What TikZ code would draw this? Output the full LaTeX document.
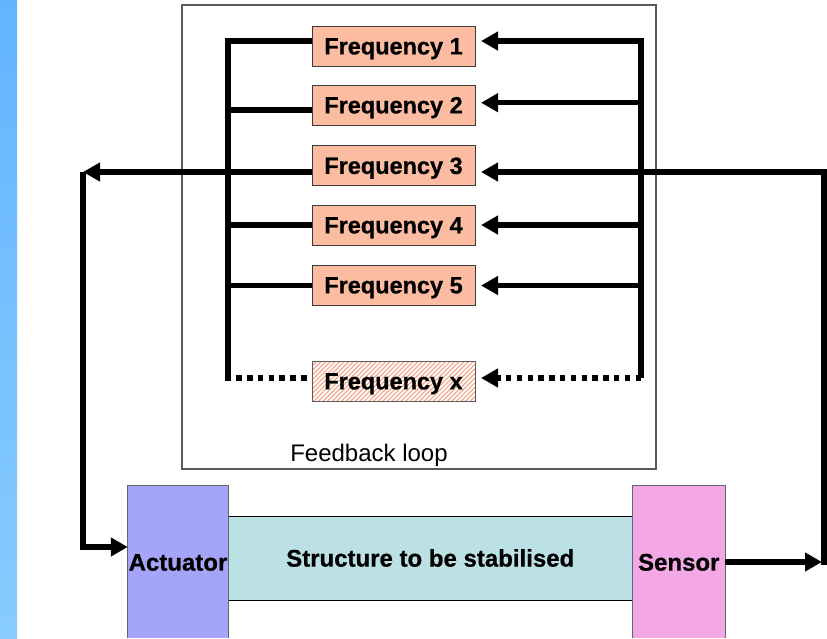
\documentclass[tikz,border=0pt]{standalone}
\usepackage{fontspec}
\setmainfont[BoldFeatures={FakeBold=0.7}]{Liberation Sans}
\usetikzlibrary{arrows.meta}
\definecolor{freqfill}{RGB}{251,188,161}
\definecolor{actfill}{RGB}{164,164,248}
\definecolor{sensfill}{RGB}{243,168,229}
\definecolor{structfill}{RGB}{187,225,228}
\definecolor{stripetop}{RGB}{99,180,255}
\definecolor{stripebot}{RGB}{136,204,255}
\definecolor{hatchcol}{RGB}{246,170,142}
\definecolor{boxline}{RGB}{60,60,60}
\definecolor{fbline}{RGB}{90,90,90}
\definecolor{sideline}{RGB}{100,100,110}
\tikzset{
  freq/.style={draw=boxline, line width=1pt, fill=freqfill, minimum width=163pt,
    minimum height=40pt, inner sep=0pt, font=\fontsize{23.5}{28}\selectfont\bfseries,
    text height=16.8pt, text depth=0pt},
  bigtext/.style={inner sep=0pt, font=\fontsize{24}{28}\selectfont\bfseries,
    text height=17.2pt, text depth=0pt},
  bus/.style={line width=5.3pt, line join=miter},
  arr/.style={bus, -{Triangle[length=17pt,width=18pt]}},
  dotline/.style={line width=5.3pt, dash pattern=on 5.5pt off 5.3pt},
  sideborder/.style={draw=sideline, line width=1pt},
}
\begin{document}
\begin{tikzpicture}[x=1pt,y=-1pt]
\useasboundingbox (0,0) rectangle (827,638);
\fill[white] (0,0) rectangle (827,638);
\shade[top color=stripetop, bottom color=stripebot] (0,0) rectangle (17,638);

% feedback loop frame
\node[draw=fbline, line width=1.2pt, minimum width=474pt, minimum height=464pt, inner sep=0pt] (fb) at (419,237) {};
\node[inner sep=0pt, font=\fontsize{24}{28}\selectfont, text height=17.2pt, text depth=0pt] (fblabel) at (369,453) {Feedback loop};

% frequency boxes
\node[freq] (f1) at (393.5,46) {Frequency 1};
\node[freq] (f2) at (393.5,105) {Frequency 2};
\node[freq] (f3) at (393.5,165.5) {Frequency 3};
\node[freq] (f4) at (393.5,225) {Frequency 4};
\node[freq] (f5) at (393.5,285) {Frequency 5};
\node[freq, fill=white, draw=fbline, path picture={
  \foreach \i in {0,4.6,...,220}
    \draw[hatchcol, line width=1.2pt] ([xshift=\i pt-45pt, yshift=-1pt]path picture bounding box.south west) -- ++(44,-44);
  }] (fx) at (393.5,381) {Frequency x};

% bus coordinates
\coordinate (lbtop) at (228,41);
\coordinate (lbbot) at (228,378);
\coordinate (rbtop) at (641,41);
\coordinate (rbbot) at (641,378);

% left bus and branches
\draw[bus] (f1.west |- lbtop) -- (lbtop) -- (lbbot);
\draw[bus] (lbtop |- 0,110) -- (f2.west |- 0,110);
\draw[bus] (lbtop |- 0,225) -- (f4.west |- 0,225);
\draw[bus] (lbtop |- 0,285.5) -- (f5.west |- 0,285.5);
\draw[dotline] ([xshift=-2.6pt]lbbot) -- (fx.west |- lbbot);

% right bus and branches
\draw[arr] (rbbot) -- (rbtop) -- ([xshift=5.5pt]f1.east |- rbtop);
\draw[arr] (rbtop |- 0,102.7) -- ([xshift=5.5pt]f2.east |- 0,102.7);
\draw[arr] (rbtop |- 0,225) -- ([xshift=5.5pt]f4.east |- 0,225);
\draw[arr] (rbtop |- 0,285.5) -- ([xshift=5.5pt]f5.east |- 0,285.5);
\draw[dotline, -{Triangle[length=17pt,width=18pt]}] (rbbot) -- ([xshift=5.5pt]fx.east |- rbbot);

% structure, actuator, sensor
\node[draw=black, line width=1pt, fill=structfill, minimum width=404.5pt, minimum height=84pt, bigtext] (str) at (430.25,558) {Structure to be stabilised};
\node[fill=actfill, minimum width=100pt, minimum height=152pt, bigtext] (act) at (178,562) {Actuator};
\draw[sideborder] (act.south west) -- (act.north west) -- (act.north east) -- (act.south east);
\node[fill=sensfill, minimum width=92.5pt, minimum height=152pt, bigtext] (sens) at (678.75,562) {Sensor};
\draw[sideborder] (sens.south west) -- (sens.north west) -- (sens.north east) -- (sens.south east);

% outer loop
\coordinate (lc) at (83,172);
\coordinate (rc) at (824,564.5);
\coordinate (rtip) at (822,562);
\draw[arr] (f3.west |- lc) -- (lc);
\draw[arr] (lc) |- (act.west |- 0,547);
\draw[arr] (sens.east |- rtip) -- (rtip);
\draw[arr] (rc) |- ([xshift=5.5pt]f3.east |- lc);
\end{tikzpicture}
\end{document}
